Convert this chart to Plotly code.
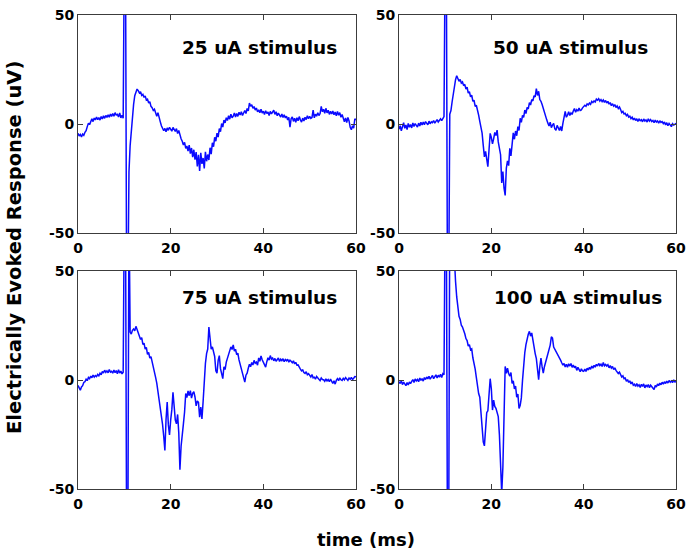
import numpy as np
import plotly.graph_objects as go

# sample times (ms), 0.25 ms sampling from 0 to 60
time_ms = np.round(np.arange(0, 60.001, 0.25), 2)

resp_25uA = [
    -4.2, -5.5, -4.8, -5.9, -4.6, -5.2, -3.8, -3.1, -1.2, 0.4, -0.3, 1.6, 2.4, 1.1, 2.7, 1.9, 3.2, 2.0, 2.9, 1.8,
    3.4, 2.3, 3.8, 2.6, 3.9, 3.0, 4.2, 3.1, 4.6, 3.5, 4.8, 3.6, 5.2, 4.1, 4.4, 3.2, 5.1, 2.8, 4.0, 2.6,
    80, 80, -80, -80, -22, -10, -2, 4, 9, 13, 15, 16, 15.3, 14.2, 14.8, 13.1, 13.6, 12.2, 12.9, 11.0,
    11.4, 9.6, 10.2, 8.1, 7.5, 6.2, 6.8, 4.9, 3.6, 5.2, 2.4, 1.1, -0.8, -1.9, -3.1, -2.0, -3.6, -1.8, -2.9, -1.5,
    -2.2, -3.3, -1.6, -2.8, -3.4, -2.1, -4.4, -3.0, -5.2, -6.8, -7.9, -9.6, -8.4, -11.2, -10.1, -12.4, -9.7, -13.6, -11.0, -15.2,
    -11.8, -16.4, -12.9, -19.5, -14.1, -21.5, -13.2, -18.3, -15.6, -20.4, -12.8, -17.1, -14.0, -16.5, -10.9, -13.8, -8.6, -10.4, -6.1, -7.9,
    -4.2, -6.0, -2.1, -3.5, 0.2, -1.4, 1.8, 0.5, 2.9, 1.6, 3.8, 2.2, 4.5, 2.9, 3.6, 5.1, 3.2, 4.8, 3.5, 5.4,
    4.1, 5.6, 3.9, 5.0, 6.2, 4.8, 7.1, 6.0, 9.6, 8.1, 8.9, 7.2, 8.0, 6.4, 7.3, 5.6, 6.5, 5.2, 6.8, 5.0,
    5.9, 4.4, 6.1, 4.8, 5.5, 3.9, 5.8, 4.6, 5.2, 6.3, 4.4, 5.6, 3.8, 5.0, 4.1, 3.2, 4.6, 3.0, 4.2, 2.8,
    3.6, 1.8, 3.1, -1.4, 2.4, 3.3, 1.2, 2.6, 0.8, 2.9, 1.5, 3.4, 1.9, 0.9, 2.7, 1.4, 3.1, 2.0, 3.8, 2.4,
    3.5, 2.6, 3.0, 6.4, 2.8, 4.5, 3.6, 5.2, 3.9, 4.8, 8.1, 5.6, 6.8, 4.9, 7.2, 5.1, 6.3, 4.4, 5.8, 4.6,
    6.0, 4.2, 5.5, 3.8, 5.7, 4.0, 5.2, 3.1, 4.4, 2.2, 1.0, 2.8, 0.6, 3.0, 1.4, -1.5, -2.6, -0.8, -1.9, 2.4,
    1.8,
]

resp_50uA = [
    -2.4, -0.8, -3.1, -1.2, 0.6, -2.0, -0.4, -2.6, 0.3, -1.5, -0.2, -1.8, 0.5, -1.1, 0.2, -0.6, -1.4, 0.4, -0.9, 0.8,
    -0.5, 0.9, -0.3, 1.1, 0.2, -0.4, 1.3, 0.1, 1.0, 0.6, 1.6, 0.4, 1.2, 2.0, 0.9, 1.8, 2.4, 1.5, 2.9, 3.4,
    80, 80, -80, -80, 4.5, 6.2, 10.1, 14.0, 17.8, 20.3, 22.1, 21.0, 19.6, 20.4, 18.8, 19.3, 17.6, 18.2, 16.0, 16.9,
    14.2, 14.8, 12.5, 13.2, 10.4, 10.9, 8.1, 8.6, 5.4, 4.1, 1.2, -1.0, -4.2, -9.8, -15.1, -12.6, -17.2, -19.6, -11.8, -4.3,
    -6.2, -9.1, -6.8, -3.9, -5.3, -2.8, -8.2, -11.0, -14.1, -27.0, -21.8, -29.4, -32.8, -20.2, -16.9, -19.1, -11.2, -14.6, -7.9, -4.1,
    -7.0, -3.2, -5.4, -1.2, -3.0, 2.6, 0.8, 3.9, 3.0, 6.4, 4.8, 7.6, 6.9, 9.8, 8.7, 11.2, 10.6, 13.0, 12.4, 16.2,
    13.1, 15.0, 11.2, 10.4, 8.9, 7.0, 5.8, 2.6, 1.9, 0.4, -0.9, 0.8, -1.7, -0.5, 0.3, -2.2, -2.9, -0.6, -1.5, -3.0,
    -1.1, -3.2, 0.3, 4.2, 5.8, 3.1, 4.0, 5.6, 3.9, 5.1, 4.4, 6.0, 7.1, 5.4, 6.6, 5.9, 7.3, 6.2, 6.5, 7.4,
    7.9, 8.6, 8.1, 9.2, 8.8, 9.6, 9.0, 10.4, 9.8, 10.6, 10.1, 11.4, 10.9, 11.6, 10.5, 11.2, 10.3, 11.0, 9.9, 10.8,
    9.6, 10.4, 9.1, 9.8, 8.4, 9.3, 8.2, 8.9, 7.6, 8.3, 7.1, 7.8, 6.6, 5.2, 5.8, 4.6, 4.9, 3.8, 4.4, 3.2,
    3.6, 2.5, 3.1, 1.9, 2.7, 1.6, 2.4, 1.2, 2.2, 1.5, 2.0, 1.0, 2.3, 1.4, 1.9, 0.9, 2.4, 1.3, 2.0, 1.1,
    1.6, 0.6, 1.8, 0.9, 1.4, 0.4, 1.5, 0.7, 1.1, 0.2, 0.9, -0.4, 0.6, -0.8, 0.3, -0.6, -1.2, 0.1, -0.5, -0.2,
    0.4,
]

resp_75uA = [
    -2.5, -3.8, -4.7, -3.2, -2.6, -1.1, -0.8, 0.4, -0.3, 1.2, 0.6, 1.8, 1.0, 2.3, 1.3, 2.0, 1.6, 2.6, 1.9, 3.1,
    2.4, 3.9, 3.2, 4.5, 3.5, 4.2, 3.3, 4.8, 3.6, 4.0, 3.1, 4.6, 3.4, 4.3, 2.9, 4.7, 3.2, 4.1, 2.8, 3.6,
    80, 80, -80, -80, 80, 22.0, 21.1, 22.8, 23.4, 22.6, 24.6, 23.2, 21.5, 20.6, 18.6, 19.4, 16.3, 16.9, 14.2, 15.0,
    11.8, 12.6, 10.1, 10.7, 7.9, 6.4, 3.8, 1.2, -1.4, -4.8, -8.6, -11.9, -16.9, -20.4, -25.8, -32.3, -18.2, -10.1, -20.6, -25.2,
    -18.4, -13.6, -5.6, -12.2, -18.4, -20.1, -15.8, -24.3, -41.2, -30.4, -26.2, -20.1, -14.7, -6.2, -8.1, -5.0, -7.2, -4.9, -8.3, -6.1,
    -5.4, -7.8, -11.9, -9.6, -10.2, -17.1, -12.4, -17.9, -10.0, 1.8, 7.6, 12.1, 14.2, 24.3, 18.6, 14.1, 15.2, 12.4, 10.8, 4.2,
    3.1, 9.0, 11.2, 5.2, 2.0, 0.6, 6.1, 4.8, 8.2, 10.1, 12.3, 13.8, 15.2, 14.0, 16.1, 13.2, 14.1, 11.6, 12.3, 9.2,
    7.0, 5.4, 3.9, 1.2, -1.0, 2.2, 3.1, 5.4, 7.2, 6.1, 8.0, 6.9, 9.0, 7.7, 8.2, 6.8, 10.1, 8.6, 11.0, 9.3,
    8.0, 6.6, 5.9, 8.4, 10.2, 9.1, 11.2, 9.6, 10.1, 8.8, 9.9, 8.6, 9.4, 10.1, 8.5, 9.6, 8.9, 9.8, 8.4, 9.4,
    8.8, 9.5, 8.2, 9.1, 8.6, 7.9, 8.8, 7.4, 8.1, 6.8, 6.9, 5.6, 5.0, 4.2, 4.6, 3.4, 3.0, 3.8, 2.4, 2.9,
    2.0, 1.4, 2.5, 1.0, 1.3, 0.4, 1.6, 0.8, 0.6, -0.3, 0.9, 0.2, 0.1, -0.6, 0.5, -0.4, 0.2, -0.8, 0.4, -0.5,
    -1.6, -0.4, -1.9, -0.2, 0.6, -0.3, 1.0, 0.1, -0.2, 0.8, 0.1, 1.1, 0.4, -0.2, 0.9, 0.3, 1.2, 0.2, 0.8, 1.6,
    1.5,
]

resp_100uA = [
    -0.8, -1.6, -0.4, -2.1, -1.0, -1.8, -2.6, -1.2, -2.3, -0.9, -1.7, -0.6, 0.2, -1.1, 0.5, -0.4, 0.3, -0.8, 0.9, -0.2,
    0.6, -0.5, 1.1, 0.2, 1.4, 0.5, 1.7, 0.4, 1.2, 2.1, 0.6, 1.5, 2.4, 0.9, 2.2, 1.3, 2.6, 1.1, 2.9, 2.4,
    80, 80, -80, -80, 80, 80, 80, 66, 53, 45.2, 38.1, 32.4, 29.2, 27.8, 25.1, 24.3, 22.0, 21.2, 19.0, 18.1,
    15.6, 16.2, 13.9, 14.3, 10.2, 8.1, 5.0, 1.2, -3.1, -6.2, -7.9, -15.2, -18.0, -28.4, -30.2, -20.1, -15.0, -14.1, -7.8, 0.6,
    -4.0, -13.8, -9.2, -12.1, -13.0, -15.2, -16.8, -25.1, -35.0, -52.0, -40.0, -20.3, 6.2, 3.1, 5.4, 3.0, 1.8, 3.4, -1.6, -0.4,
    -4.1, -2.8, -7.9, -6.4, -13.1, -11.6, -8.2, -0.3, 8.1, 12.6, 16.2, 18.9, 21.0, 22.3, 20.1, 21.6, 17.9, 16.4, 12.1, 9.8,
    5.2, 0.2, 6.1, 10.1, 6.0, 3.2, 6.1, 8.0, 9.2, 11.4, 14.1, 16.0, 19.8, 19.2, 15.1, 14.2, 13.0, 12.2, 10.9, 10.1,
    9.1, 7.9, 6.8, 7.6, 6.0, 7.2, 5.9, 7.4, 6.4, 7.6, 5.8, 6.9, 5.6, 6.3, 4.4, 5.8, 4.9, 3.8, 5.1, 4.2,
    4.0, 5.0, 3.9, 5.4, 4.6, 5.8, 4.9, 6.4, 5.4, 6.7, 5.9, 7.2, 6.4, 7.6, 6.6, 7.3, 6.2, 8.0, 6.5, 7.1,
    6.4, 7.0, 5.6, 6.6, 5.5, 6.2, 4.8, 5.6, 4.4, 3.8, 3.0, 3.6, 2.2, 1.4, 1.9, 0.6, 0.9, -0.6, 0.2, -1.1,
    -0.4, -1.8, -0.9, -2.4, -1.9, -3.0, -1.6, -2.8, -2.2, -3.4, -2.0, -2.9, -1.8, -3.6, -2.3, -3.0, -2.1, -3.5, -2.4, -3.2,
    -3.6, -4.4, -2.5, -3.2, -1.8, -2.6, -1.4, -2.2, -1.0, -1.9, -0.8, -1.6, -0.5, -1.4, -0.2, -1.0, -0.4, -1.2, 0.1, -0.9,
    -0.8,
]

panel_titles = ["25 uA stimulus", "50 uA stimulus", "75 uA stimulus", "100 uA stimulus"]
series = [resp_25uA, resp_50uA, resp_75uA, resp_100uA]
x_ticks = [0, 20, 40, 60]
y_ticks = [-50, 0, 50]
y_tick_text = ["-50", "0", "50"]

W, H = 696, 552
FONT = "DejaVu Sans"
AX_COLOR = "#3c3c3c"

# panel pixel boxes: (left, right, top, bottom)
boxes = [(78, 356, 15, 233), (399, 676, 15, 233), (78, 356, 271, 489), (399, 676, 271, 489)]
title_pos = [(22.0, 35), (20.0, 35), (22.0, 38), (20.2, 38)]

fig = go.Figure()
for i, (vals, box) in enumerate(zip(series, boxes)):
    n = "" if i == 0 else str(i + 1)
    fig.add_trace(go.Scatter(
        x=time_ms, y=vals, mode="lines",
        line=dict(color="#0a0aff", width=1.5),
        xaxis="x" + n, yaxis="y" + n, showlegend=False, hoverinfo="skip",
    ))
    l, r, t, b = box
    common = dict(
        showline=True, linecolor=AX_COLOR, linewidth=1, mirror="ticks",
        ticks="inside", ticklen=5, tickcolor=AX_COLOR, tickwidth=1,
        showgrid=False, zeroline=False, automargin=False,
        tickfont=dict(family=FONT, size=14, color="black", weight="bold"),
    )
    fig.layout["xaxis" + n] = dict(
        domain=[l / W, r / W], range=[0, 60], anchor="y" + n,
        tickvals=x_ticks, ticklabelstandoff=2, **common)
    fig.layout["yaxis" + n] = dict(
        domain=[1 - b / H, 1 - t / H], range=[-50, 50], anchor="x" + n,
        tickvals=y_ticks, ticktext=y_tick_text, **common)
    tx, ty = title_pos[i]
    fig.add_annotation(
        x=tx, y=ty, xref="x" + n, yref="y" + n, text=panel_titles[i],
        showarrow=False, xanchor="left", yanchor="middle",
        font=dict(family=FONT, size=18.5, color="black", weight="bold"))

fig.add_annotation(
    x=366 / W, y=1 - 539 / H, xref="paper", yref="paper", text="time (ms)",
    showarrow=False, xanchor="center", yanchor="middle",
    font=dict(family=FONT, size=18, color="black", weight="bold"))
fig.add_annotation(
    x=14 / W, y=1 - 248 / H, xref="paper", yref="paper",
    text="Electrically Evoked Response (uV)", textangle=-90,
    showarrow=False, xanchor="center", yanchor="middle",
    font=dict(family=FONT, size=19.5, color="black", weight="bold"))

fig.update_layout(
    width=W, height=H, autosize=False, margin=dict(l=0, r=0, t=0, b=0, autoexpand=False),
    paper_bgcolor="white", plot_bgcolor="white",
)
fig.write_html(
    "out.html",
    config={"displayModeBar": False, "staticPlot": True},
    post_script="document.body.style.margin='0';document.body.style.padding='0';"
                "document.body.style.overflow='hidden';",
)
